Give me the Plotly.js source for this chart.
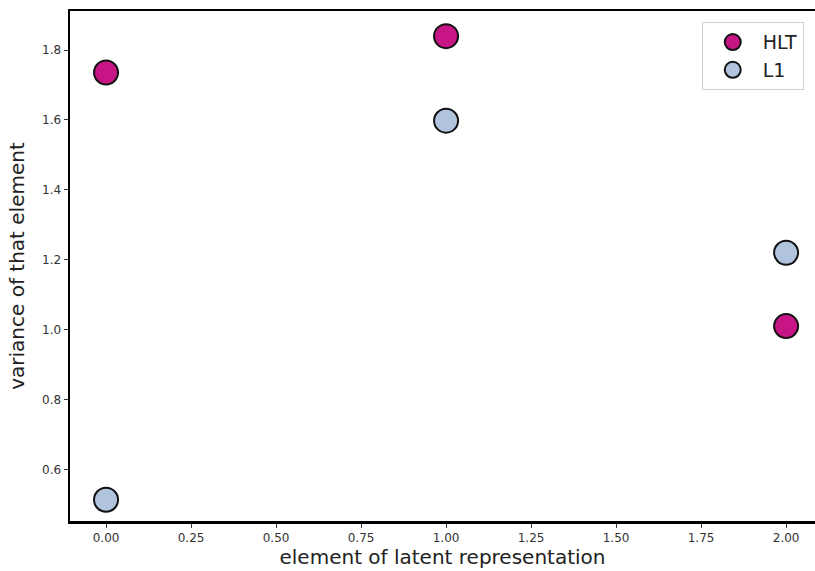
<!DOCTYPE html>
<html><head><meta charset="utf-8">
<script src="https://cdn.plot.ly/plotly-3.0.1.min.js"></script>
<style>html,body{margin:0;padding:0;background:#fff}</style>
</head><body>
<div id="chart" style="width:815px;height:571px"></div>
<script>
const elements = [0, 1, 2];
const hltVariance = [1.736, 1.840, 1.010];
const l1Variance = [0.513, 1.598, 1.220];
const seriesNames = ["HLT", "L1"];
const xTicks = [0, 0.25, 0.5, 0.75, 1.0, 1.25, 1.5, 1.75, 2.0];
const xTickLabels = ["0.00","0.25","0.50","0.75","1.00","1.25","1.50","1.75","2.00"];
const yTicks = [0.6, 0.8, 1.0, 1.2, 1.4, 1.6, 1.8];
const yTickLabels = ["0.6","0.8","1.0","1.2","1.4","1.6","1.8"];

const mk = (c) => ({size: 24, color: c, line: {color: "#111", width: 2}});
const traces = [
  {x: elements, y: hltVariance, name: seriesNames[0], mode: "markers", type: "scatter", marker: mk("#c71585")},
  {x: elements, y: l1Variance, name: seriesNames[1], mode: "markers", type: "scatter", marker: mk("#b0c4de")}
];
const fam = "DejaVu Sans, sans-serif";
const layout = {
  width: 815, height: 571,
  margin: {l: 70, r: 0, t: 11, b: 50},
  paper_bgcolor: "#fff", plot_bgcolor: "#fff",
  showlegend: true,
  font: {family: fam, color: "#333"},
  xaxis: {
    range: [-0.106, 2.085], tickvals: xTicks, ticktext: xTickLabels,
    showgrid: false, zeroline: false, showline: true, mirror: true,
    linecolor: "#000", linewidth: 2.5, ticks: "outside", ticklen: 4, tickcolor: "#333", tickwidth: 1,
    tickfont: {size: 12, color: "#333", family: fam},
    title: {text: "element of latent representation", font: {size: 20, color: "#222", family: fam}, standoff: 6}
  },
  yaxis: {
    range: [0.452, 1.912], tickvals: yTicks, ticktext: yTickLabels,
    showgrid: false, zeroline: false, showline: true, mirror: false,
    linecolor: "#000", linewidth: 2.5, ticks: "outside", ticklen: 4, tickcolor: "#333", tickwidth: 1,
    tickfont: {size: 12, color: "#333", family: fam},
    title: {text: "variance of that element", font: {size: 20, color: "#222", family: fam}, standoff: 12}
  },
  legend: {
    x: 0.848, y: 0.978, xanchor: "left", yanchor: "top",
    bgcolor: "#fff", bordercolor: "#d0d0d0", borderwidth: 1,
    font: {size: 19, color: "#222", family: fam},
    itemwidth: 50,
    tracegroupgap: 0
  }
};
Plotly.newPlot("chart", traces, layout, {displayModeBar: false, staticPlot: true});
</script>
</body></html>
